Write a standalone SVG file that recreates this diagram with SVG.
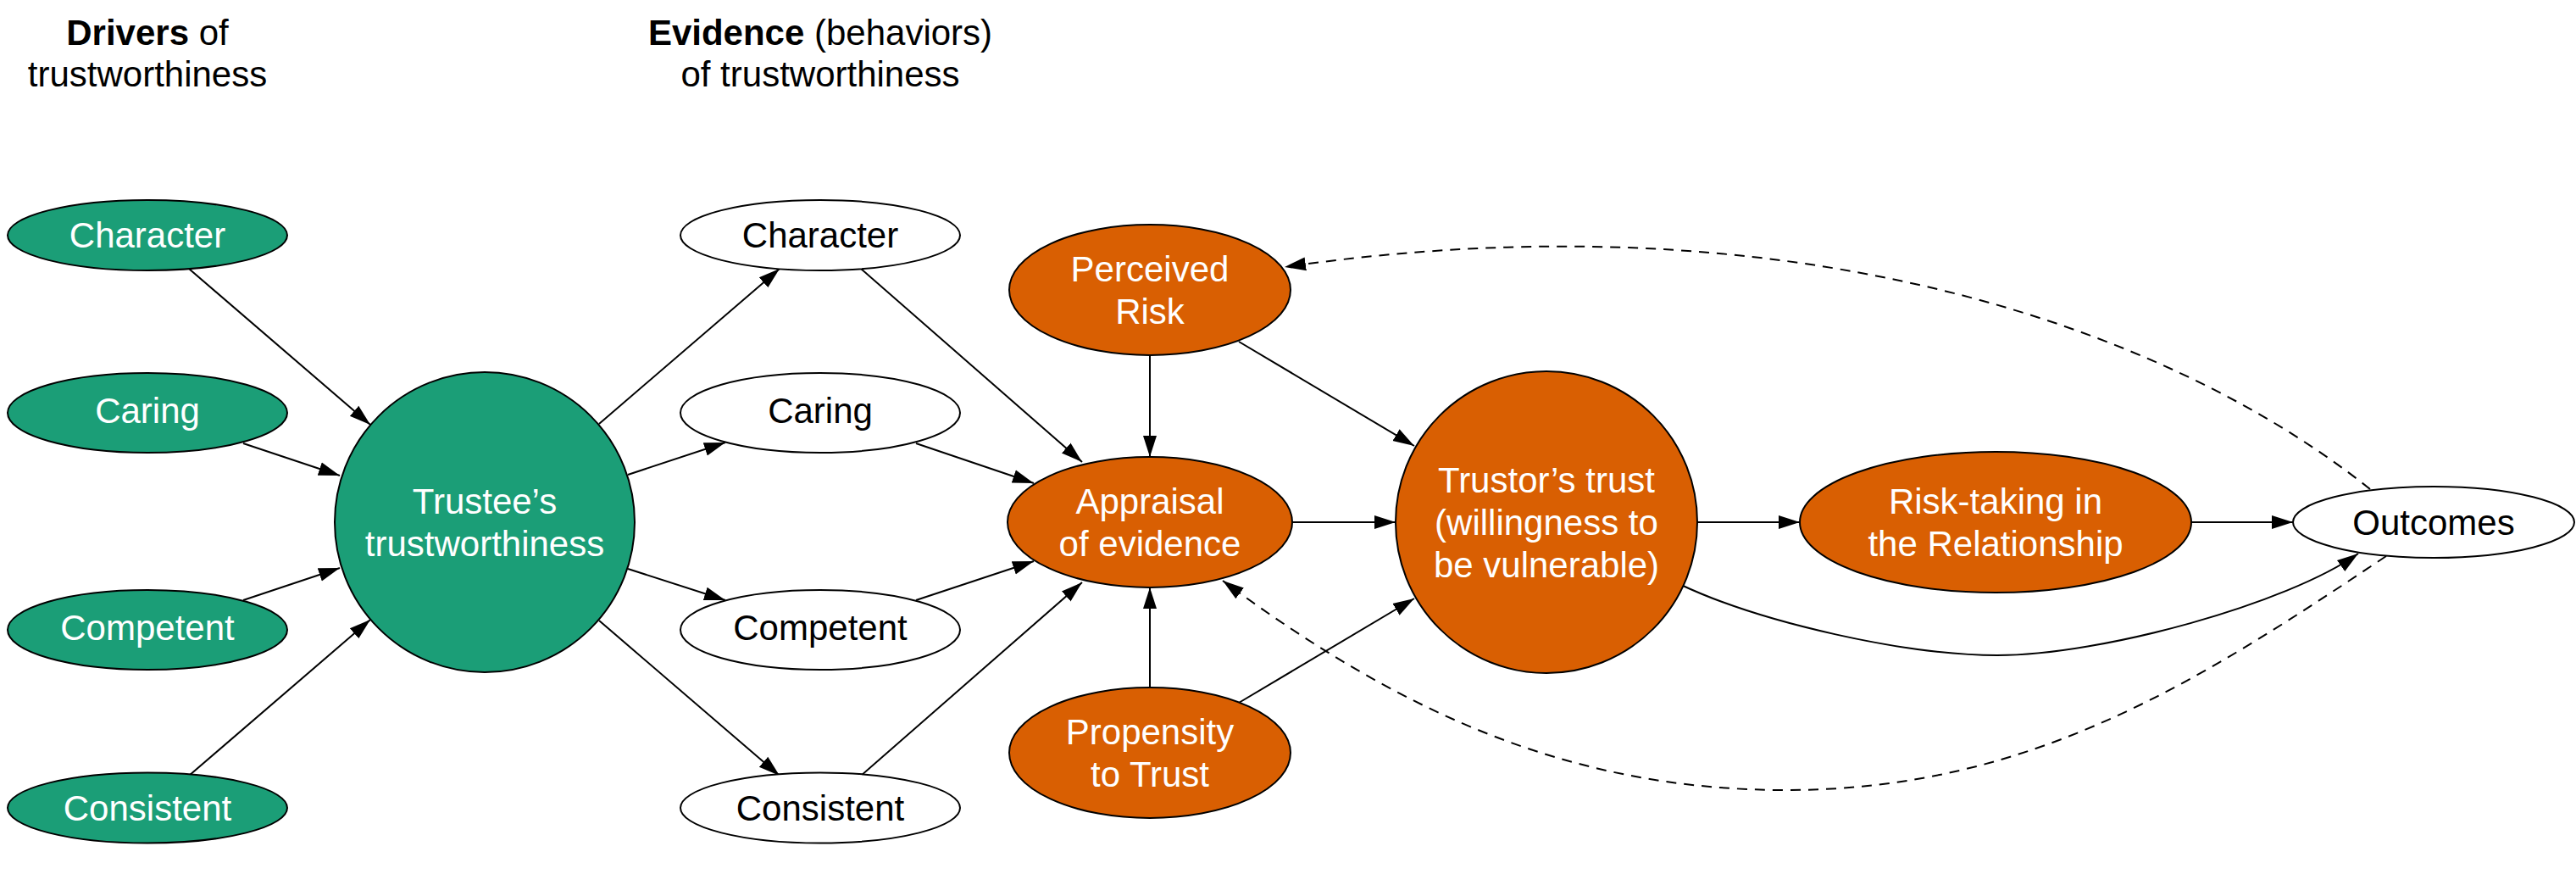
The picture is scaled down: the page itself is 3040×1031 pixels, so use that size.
<svg xmlns="http://www.w3.org/2000/svg" width="3040" height="1031" viewBox="0 0 3040 1031">
<style>
text{font-family:"Liberation Sans",Arial,sans-serif;font-size:42px;text-anchor:middle}
.g{fill:#1b9e77;stroke:#000;stroke-width:2}
.o{fill:#d95f02;stroke:#000;stroke-width:2}
.w{fill:#fff;stroke:#000;stroke-width:2}
.lt{fill:#fff}
.dk{fill:#000}
.e{fill:none;stroke:#000;stroke-width:2;marker-end:url(#ah)}
.d{stroke-dasharray:12,9}
</style>
<defs>
<marker id="ah" markerUnits="userSpaceOnUse" markerWidth="27" markerHeight="18" refX="25" refY="9" orient="auto">
<path d="M0,1 L25,9 L0,17 z" fill="#000"/>
</marker>
</defs>
<g id="headers">
<text x="174" y="53"><tspan font-weight="bold">Drivers</tspan> of</text>
<text x="174" y="102">trustworthiness</text>
<text x="968" y="53"><tspan font-weight="bold">Evidence</tspan> (behaviors)</text>
<text x="968" y="102">of trustworthiness</text>
</g>
<g id="connectors">
<path class="e" d="M223,317 L437,501"/>
<path class="e" d="M287,523 L401,561"/>
<path class="e" d="M287,708 L401,670"/>
<path class="e" d="M223,915 L437,731"/>
<path class="e" d="M707,500 L920,317"/>
<path class="e" d="M741,560 L856,522"/>
<path class="e" d="M741,671 L856,708"/>
<path class="e" d="M707,732 L920,915"/>
<path class="e" d="M1016,317 L1277,545"/>
<path class="e" d="M1081,523 L1220,570"/>
<path class="e" d="M1081,708 L1220,662"/>
<path class="e" d="M1016,915 L1277,687"/>
<path class="e" d="M1357,419 L1357,539"/>
<path class="e" d="M1357,811 L1357,693"/>
<path class="e" d="M1462,403 L1669,526"/>
<path class="e" d="M1462,829 L1669,706"/>
<path class="e" d="M1525,616 L1647,616"/>
<path class="e" d="M2003,616 L2124,616"/>
<path class="e" d="M2586,616 L2706,616"/>
<path class="e" d="M1984,690 C2080,735 2250,773 2357,773 C2480,773 2700,712 2783,653"/>
<path class="e d" d="M2797,577 C2550,380 2100,230 1516,315"/>
<path class="e d" d="M2816,656 C2600,800 2400,932 2108,932 C1850,932 1650,838 1443,685"/>
</g>
<g id="drv-character"><ellipse class="g" cx="174" cy="277.5" rx="165" ry="41.5"/><text class="lt" x="174" y="292">Character</text></g>
<g id="drv-caring"><ellipse class="g" cx="174" cy="487" rx="165" ry="47"/><text class="lt" x="174" y="499">Caring</text></g>
<g id="drv-competent"><ellipse class="g" cx="174" cy="743" rx="165" ry="47"/><text class="lt" x="174" y="755">Competent</text></g>
<g id="drv-consistent"><ellipse class="g" cx="174" cy="953" rx="165" ry="41.5"/><text class="lt" x="174" y="968">Consistent</text></g>
<g id="trustee"><circle class="g" cx="572" cy="616" r="177"/><text class="lt" x="572" y="606">Trustee’s</text><text class="lt" x="572" y="656">trustworthiness</text></g>
<g id="ev-character"><ellipse class="w" cx="968" cy="277.5" rx="165" ry="41.5"/><text class="dk" x="968" y="292">Character</text></g>
<g id="ev-caring"><ellipse class="w" cx="968" cy="487" rx="165" ry="47"/><text class="dk" x="968" y="499">Caring</text></g>
<g id="ev-competent"><ellipse class="w" cx="968" cy="743" rx="165" ry="47"/><text class="dk" x="968" y="755">Competent</text></g>
<g id="ev-consistent"><ellipse class="w" cx="968" cy="953" rx="165" ry="41.5"/><text class="dk" x="968" y="968">Consistent</text></g>
<g id="perceived-risk"><ellipse class="o" cx="1357" cy="342" rx="166" ry="77"/><text class="lt" x="1357" y="332">Perceived</text><text class="lt" x="1357" y="382">Risk</text></g>
<g id="appraisal"><ellipse class="o" cx="1357" cy="616" rx="168" ry="77"/><text class="lt" x="1357" y="606">Appraisal</text><text class="lt" x="1357" y="656">of evidence</text></g>
<g id="propensity"><ellipse class="o" cx="1357" cy="888" rx="166" ry="77"/><text class="lt" x="1357" y="878">Propensity</text><text class="lt" x="1357" y="928">to Trust</text></g>
<g id="trustor"><circle class="o" cx="1825" cy="616" r="178"/><text class="lt" x="1825" y="581">Trustor’s trust</text><text class="lt" x="1825" y="631">(willingness to</text><text class="lt" x="1825" y="681">be vulnerable)</text></g>
<g id="risk-taking"><ellipse class="o" cx="2355" cy="616" rx="231" ry="83"/><text class="lt" x="2355" y="606">Risk-taking in</text><text class="lt" x="2355" y="656">the Relationship</text></g>
<g id="outcomes"><ellipse class="w" cx="2872" cy="616" rx="166" ry="42"/><text class="dk" x="2872" y="631">Outcomes</text></g>
</svg>
